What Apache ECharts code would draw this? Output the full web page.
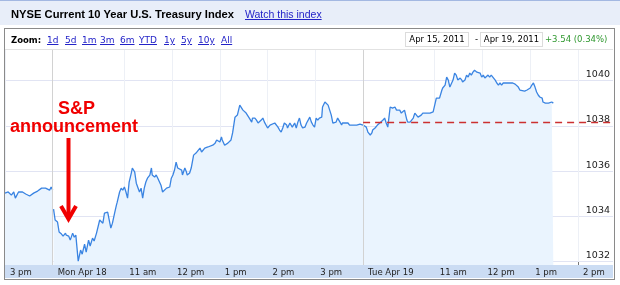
<!DOCTYPE html>
<html><head><meta charset="utf-8">
<script src="https://cdn.jsdelivr.net/npm/echarts@6/dist/echarts.min.js"></script>
<style>
html,body{margin:0;padding:0;background:#fff;width:620px;height:285px;overflow:hidden;}
.a{position:absolute;white-space:nowrap;}
.lk{font:9px 'DejaVu Sans';color:#2323c8;text-decoration:underline;top:35px;line-height:10px;}
.box{position:absolute;top:32px;height:13px;border:1px solid #dcdcdc;font:8.5px 'DejaVu Sans';line-height:13px;color:#000;text-align:center;}
</style></head>
<body>
<div class="a" style="left:0;top:0;width:620px;height:24px;background:#e8eef9;border-top:1px solid #a3b8e2;"></div>
<div class="a" style="left:4px;top:28px;width:609px;height:250px;border:1px solid #8a8a8a;"></div>
<div class="a" style="left:5px;top:49px;width:608px;height:1px;background:#e2e2e2;"></div>
<div class="a" style="left:5px;top:265px;width:608px;height:13px;background:#cbdcf3;"></div>
<div id="chart" class="a" style="left:0;top:0;width:620px;height:285px;"></div>
<div class="a" style="left:11px;top:8px;font:bold 11.2px 'Liberation Sans';line-height:12px;color:#000;">NYSE Current 10 Year U.S. Treasury Index</div>
<div class="a" style="left:245px;top:8px;font:10.5px 'Liberation Sans';line-height:12px;color:#2323c8;text-decoration:underline;">Watch this index</div>
<div class="a" style="left:11px;top:35px;font:bold 8.5px 'DejaVu Sans';line-height:10px;color:#000;">Zoom:</div>
<div class="a lk" style="left:47px">1d</div>
<div class="a lk" style="left:65px">5d</div>
<div class="a lk" style="left:82px">1m</div>
<div class="a lk" style="left:100px">3m</div>
<div class="a lk" style="left:120px">6m</div>
<div class="a lk" style="left:139px">YTD</div>
<div class="a lk" style="left:164px">1y</div>
<div class="a lk" style="left:181px">5y</div>
<div class="a lk" style="left:198px">10y</div>
<div class="a lk" style="left:221px">All</div>
<div class="box" style="left:405px;width:62px;">Apr 15, 2011</div>
<div class="a" style="left:475px;top:34px;font:8.5px 'DejaVu Sans';line-height:10px;">-</div>
<div class="box" style="left:480px;width:61px;">Apr 19, 2011</div>
<div class="a" style="left:545px;top:34px;font:8.5px 'DejaVu Sans';line-height:10px;color:#2f982f;">+3.54 (0.34%)</div>
<script>
// minutes of trading time since Fri Apr 15, 3 pm (Mon open = 60, Tue open = 450)
const friMinutes = [0,4,8,11,13,17,22,26,31,36,41,46,51,56,58,60];
const friPrices = [1035.03,1035.08,1034.94,1035.08,1034.81,1035.08,1035.08,1034.99,1034.90,1035.03,1035.12,1035.25,1035.25,1035.16,1035.30,1035.16];

const monTueMinutes = [61,63,66,68,71,73,76,77,80,82,85,87,89,92,95,97,100,102,105,107,110,112,115,119,121,123,125,127,129,131,133,135,138,140,141,144,146,148,150,152,154,156,159,160,163,165,167,169,171,173,175,177,179,182,184,185,188,190,192,194,196,198,200,203,204,207,209,211,213,215,217,219,222,223,226,228,229,232,234,236,237,240,242,245,247,248,251,255,257,261,264,266,267,270,272,273,276,278,280,282,284,286,289,291,292,295,297,299,301,303,305,307,310,311,314,316,318,320,322,324,326,328,330,333,335,339,343,345,347,349,351,354,355,358,360,361,364,366,368,370,372,374,377,379,380,383,385,387,389,391,393,395,398,399,402,404,406,408,410,412,414,416,418,421,423,424,427,429,431,433,437,442,446,448,450,452,454,456,459,461,462,465,467,468,471,473,475,477,479,481,484,486,487,490,492,494,496,498,500,502,505,506,509,511,513,515,517,519,521,523,525,530,534,538,540,542,544,546,549,550,553,555,557,559,561,563,565,567,569,572,574,575,578,580,582,584,586,588,590,593,594,597,599,601,603,605,607,609,611,613,616,618,620,622,624,626,628,630,632,635,638,641,643,645,647,649,653,656,657,660,662,664,666,668,670,672,675,676,679,681,683,685,687,689];
const monTuePrices = [1034.32,1033.84,1033.75,1033.31,1033.22,1033.13,1033.26,1033.17,1033.13,1032.95,1033.26,1033.08,1033.17,1032.02,1032.51,1032.33,1032.77,1032.42,1032.95,1032.69,1033.04,1032.91,1033.26,1033.84,1033.92,1033.70,1034.15,1034.19,1034.19,1033.84,1033.48,1033.70,1034.19,1034.50,1034.63,1035.08,1035.25,1035.16,1035.30,1035.08,1034.81,1035.52,1035.96,1036.14,1035.96,1035.47,1035.52,1035.08,1035.25,1034.81,1035.25,1035.52,1035.69,1035.83,1036.14,1035.83,1035.74,1035.83,1035.69,1035.69,1035.38,1035.08,1035.16,1035.25,1035.30,1035.30,1035.69,1035.83,1036.05,1036.40,1036.14,1036.18,1036.05,1035.83,1036.14,1035.96,1035.83,1035.92,1036.14,1036.18,1036.71,1036.80,1036.76,1037.02,1036.85,1036.93,1037.02,1037.07,1037.11,1037.15,1037.24,1037.38,1037.46,1037.29,1037.51,1037.38,1037.15,1037.07,1037.24,1037.29,1037.38,1037.69,1038.39,1038.35,1038.48,1038.92,1038.84,1038.70,1038.62,1038.57,1038.62,1038.35,1038.17,1038.35,1038.35,1038.26,1038.13,1038.17,1038.26,1038.35,1038.17,1038.13,1037.91,1038.04,1038.04,1038.13,1037.95,1037.82,1037.73,1037.91,1038.13,1038.04,1037.91,1038.13,1038.13,1037.95,1038.13,1037.91,1038.17,1038.35,1038.04,1037.91,1037.95,1038.13,1038.17,1038.39,1038.17,1038.04,1037.95,1038.35,1038.26,1038.35,1038.39,1038.84,1039.06,1039.01,1038.92,1038.70,1038.48,1038.13,1038.17,1038.17,1038.35,1038.17,1038.04,1038.13,1038.13,1038.17,1038.13,1038.04,1038.04,1038.04,1038.08,1038.13,1038.04,1038.08,1037.95,1037.73,1037.60,1037.69,1037.82,1037.91,1037.95,1038.04,1038.13,1038.17,1038.26,1038.35,1038.13,1037.95,1038.84,1038.92,1038.79,1038.84,1038.70,1038.62,1038.70,1038.57,1038.62,1038.70,1038.26,1038.17,1038.17,1038.17,1038.35,1038.57,1038.48,1038.39,1038.35,1038.48,1038.57,1038.57,1038.57,1038.62,1038.70,1039.23,1039.28,1039.23,1039.59,1039.68,1039.81,1040.16,1040.03,1039.72,1039.68,1040.03,1040.34,1040.25,1040.03,1040.12,1040.03,1039.94,1040.03,1040.25,1040.16,1040.34,1040.25,1040.38,1040.47,1040.38,1040.38,1040.34,1040.16,1040.25,1040.12,1040.16,1040.25,1040.16,1040.25,1040.21,1040.03,1039.90,1039.81,1039.90,1039.81,1039.90,1039.94,1039.90,1039.94,1039.90,1039.90,1039.85,1039.81,1039.72,1039.59,1039.54,1039.54,1039.59,1039.54,1039.68,1039.81,1039.90,1039.72,1039.50,1039.37,1039.28,1039.23,1039.06,1039.01,1039.06,1039.01,1039.01,1039.06,1039.01];

const tickMinutes = [0,60,150,210,270,330,390,450,540,600,660,720];
const tickLabels = ['3 pm','Mon Apr 18','11 am','12 pm','1 pm','2 pm','3 pm','Tue Apr 19','11 am','12 pm','1 pm','2 pm'];
const dayStarts = [60,450];
const yTicks = [1032,1034,1036,1038,1040];
const prevClose = 1038.15;
const xRange = [0,764];
const yRange = [1031.85,1041.36];

const labelMap = {};
tickMinutes.forEach((m,i)=>{labelMap[m]=tickLabels[i];});

const chart = echarts.init(document.getElementById('chart'), null, {renderer:'canvas'});
const lineColor = '#3a84e2';
const areaColor = '#eaf4fe';
function mk(xs, ys){ return xs.map((x,i)=>[x, ys[i]]); }

chart.setOption({
  animation:false,
  backgroundColor:'transparent',
  grid:{left:5,right:7,top:50,bottom:20,containLabel:false},
  xAxis:{
    type:'value', min:xRange[0], max:xRange[1],
    axisLine:{show:false},
    axisTick:{show:true, inside:true, length:3, lineStyle:{color:'#777'}, customValues:tickMinutes},
    axisLabel:{customValues:tickMinutes, formatter:v=>labelMap[v]||'', align:'left', padding:[0,0,0,5], margin:3,
      fontFamily:'DejaVu Sans', fontSize:8.5, color:'#222'},
    splitLine:{show:true, lineStyle:{color:'#edf0f6', width:1}}
  },
  yAxis:{
    type:'value', position:'right', min:yRange[0], max:yRange[1],
    axisLine:{show:false}, axisTick:{show:false, customValues:yTicks},
    axisLabel:{customValues:yTicks, formatter:v=>String(v), inside:true, margin:3, verticalAlign:'bottom', fontFamily:'DejaVu Sans', fontSize:9.5, color:'#222', padding:[0,0,1,0]},
    splitLine:{show:true, lineStyle:{color:'#e1e4f3', width:1}}
  },
  series:[
    {type:'line', data:mk(friMinutes,friPrices), symbol:'none', lineStyle:{color:lineColor,width:1.3}, areaStyle:{color:areaColor,opacity:1,origin:'start'}, z:3,
     markLine:{silent:true, symbol:'none', label:{show:false}, lineStyle:{color:'#d2d2d2', type:'solid', width:1}, data:dayStarts.map(d=>({xAxis:d}))}},
    {type:'line', data:mk(monTueMinutes,monTuePrices), symbol:'none', lineStyle:{color:lineColor,width:1.3}, areaStyle:{color:areaColor,opacity:1,origin:'start'}, z:3,
     markLine:{silent:true, symbol:'none', label:{show:false}, lineStyle:{color:'#cc3030', type:[7,5], width:1.3},
       data:[[{coord:[dayStarts[1],prevClose]},{coord:[xRange[1],prevClose]}]]}}
  ],
  graphic:[
    {type:'text', z:100, left:58, top:100, style:{text:'S&P', font:'bold 18px "Liberation Sans"', fill:'#f00000'}},
    {type:'text', z:100, left:10, top:118, style:{text:'announcement', font:'bold 18px "Liberation Sans"', fill:'#f00000'}},
    {type:'line', z:100, shape:{x1:68.5,y1:138,x2:68.5,y2:219}, style:{stroke:'#f00000', lineWidth:4}},
    {type:'polyline', z:100, shape:{points:[[61,206],[68.5,219],[76,206]]}, style:{stroke:'#f00000', lineWidth:4, fill:null, lineJoin:'miter'}}
  ]
});
</script>
</body></html>
